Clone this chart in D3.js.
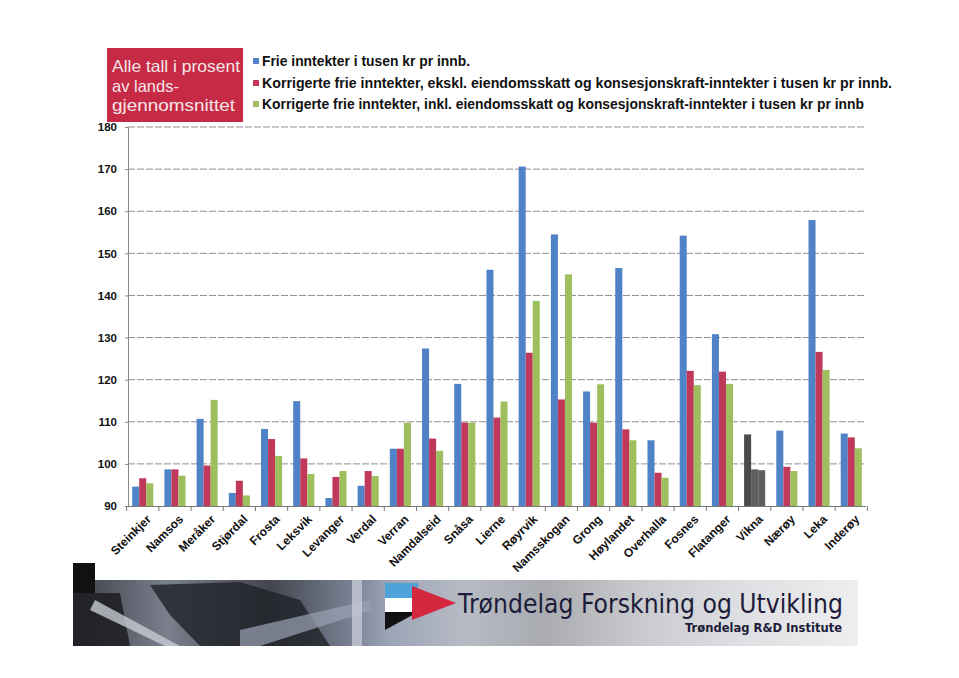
<!DOCTYPE html>
<html><head><meta charset="utf-8">
<script src="https://cdn.jsdelivr.net/npm/d3@7"></script>
<style>body{margin:0;background:#fff}svg{display:block}</style>
</head><body>
<svg id="c" width="959" height="678"></svg>
<script>
const categories = ["Steinkjer","Namsos","Meråker","Stjørdal","Frosta","Leksvik","Levanger","Verdal","Verran","Namdalseid","Snåsa","Lierne","Røyrvik","Namsskogan","Grong","Høylandet","Overhalla","Fosnes","Flatanger","Vikna","Nærøy","Leka","Inderøy"];
const frie = [94.6,98.7,110.7,93.1,108.3,114.9,91.9,94.8,103.6,127.4,119.0,146.1,170.6,154.5,117.2,146.5,105.6,154.2,130.8,107.0,107.9,157.9,107.2];
const eksklusiv = [96.6,98.7,99.6,96.0,105.9,101.3,96.9,98.3,103.6,106.0,109.8,111.0,126.4,115.3,109.8,108.2,97.9,122.1,121.9,98.7,99.3,126.6,106.3];
const inklusiv = [95.4,97.2,115.2,92.5,101.9,97.6,98.3,97.1,109.8,103.1,109.8,114.8,138.7,145.0,118.9,105.6,96.7,118.7,119.0,98.5,98.3,122.3,103.7];
const seriesNames = ["Frie inntekter i tusen kr pr innb.",
  "Korrigerte frie inntekter, ekskl. eiendomsskatt og konsesjonskraft-inntekter i tusen kr pr innb.",
  "Korrigerte frie inntekter, inkl. eiendomsskatt og konsesjonskraft-inntekter i tusen kr pr innb"];
const yTicks = [90,100,110,120,130,140,150,160,170,180];
const boxLines = ["Alle tall i prosent","av lands-","gjennomsnittet"];
const colors = ["#4f82c6","#c0385a","#9ebf5e"];
const greyCat = "Vikna";
const greyColors = ["#4b4b4b","#5f5f5f","#5f5f5f"];

const svg = d3.select("#c");
const F = "'Liberation Sans', Arial, sans-serif";
const FN = "'Liberation Sans Narrow','Arial Narrow','Liberation Sans',Arial,sans-serif";

const x = d3.scaleBand().domain(categories).range([128,866]).paddingInner(0.345).paddingOuter(0.13);
const keys = [0,1,2];
const xs = d3.scaleBand().domain(keys).range([0,x.bandwidth()]);
const y = d3.scaleLinear().domain([90,180]).range([506,127]);
const series = [frie, eksklusiv, inklusiv];

// gridlines
svg.append("g").selectAll("line").data(yTicks.filter(t=>t>90)).join("line")
  .attr("x1",128).attr("x2",866).attr("y1",d=>y(d)).attr("y2",d=>y(d))
  .attr("stroke","#8f8f8f").attr("stroke-width",1).attr("stroke-dasharray","7,2");

// y axis
const ya = svg.append("g").attr("transform","translate(128,0)").call(d3.axisLeft(y).tickValues(yTicks).tickSize(3).tickPadding(8));
ya.select(".domain").attr("stroke","#888");
ya.selectAll(".tick line").attr("stroke","#888");
ya.selectAll("text").attr("font-family",F).attr("font-weight","bold").attr("font-size","11.5px").attr("fill","#111");

// bars
const groups = svg.append("g").selectAll("g").data(categories).join("g")
  .attr("transform",d=>`translate(${x(d)},0)`);
groups.selectAll("rect").data((c,i)=>keys.map(k=>({k, c, v:series[k][i]}))).join("rect")
  .attr("x",d=>xs(d.k)).attr("width",xs.bandwidth())
  .attr("y",d=>y(d.v)).attr("height",d=>y(90)-y(d.v))
  .attr("fill",d=> d.c===greyCat ? greyColors[d.k] : colors[d.k]);

// x axis
const step = x.step();
const x0 = x(categories[0]) - step*x.paddingInner()/2;
svg.append("line").attr("x1",128).attr("x2",866).attr("y1",506.5).attr("y2",506.5).attr("stroke","#777").attr("stroke-width",1.2);
svg.append("g").selectAll("line").data(d3.range(categories.length+1)).join("line")
  .attr("x1",i=>x0+i*step).attr("x2",i=>x0+i*step).attr("y1",506).attr("y2",511)
  .attr("stroke","#777");
svg.append("g").selectAll("text").data(categories).join("text")
  .attr("transform",d=>`translate(${x(d)+x.bandwidth()/2+6},${517}) rotate(-45)`)
  .attr("text-anchor","end").attr("dy","0.35em")
  .attr("font-family",F).attr("font-weight","bold").attr("font-size","12px").attr("fill","#111")
  .text(d=>d);

// red box
svg.append("rect").attr("x",107).attr("y",48).attr("width",136).attr("height",74).attr("fill","#c72a45");
const boxW = [128,null,123];
svg.append("g").selectAll("text").data(boxLines).join("text")
  .attr("x",112).attr("y",(d,i)=>72+i*19.5)
  .attr("font-family",FN).attr("font-size","16.5px").attr("fill","#f3e6e8")
  .each(function(d,i){ if(boxW[i]) d3.select(this).attr("textLength",boxW[i]).attr("lengthAdjust","spacingAndGlyphs"); })
  .text(d=>d);

// legend
const legW = [208,630,602];
const lg = svg.append("g").selectAll("g").data(seriesNames).join("g")
  .attr("transform",(d,i)=>`translate(253,${[61,83,104][i]})`);
lg.append("rect").attr("x",0).attr("y",-3).attr("width",6).attr("height",6).attr("fill",(d,i)=>colors[i]);
lg.append("text").attr("x",9).attr("y",5)
  .attr("font-family",FN).attr("font-weight","bold").attr("font-size","15px").attr("fill","#111")
  .attr("textLength",(d,i)=>legW[i]).attr("lengthAdjust","spacingAndGlyphs")
  .text(d=>d);

// banner
const defs = svg.append("defs");
const g1 = defs.append("linearGradient").attr("id","bg").attr("x1","0").attr("x2","1").attr("y1","0").attr("y2","0");
[[0,"#3b3f48"],[0.12,"#7a7f8c"],[0.25,"#42454e"],[0.36,"#7c8496"],[0.4,"#9aa3b6"],[0.5,"#b7bbc4"],[0.6,"#a9abb0"],[0.72,"#c9cacd"],[0.85,"#dedfe2"],[1,"#eeeef0"]]
  .forEach(([o,c])=>g1.append("stop").attr("offset",o).attr("stop-color",c));
const b = svg.append("g");
b.append("rect").attr("x",73).attr("y",580).attr("width",785).attr("height",66).attr("fill","url(#bg)");
b.append("rect").attr("x",73).attr("y",563).attr("width",22).attr("height",30).attr("fill","#111");
b.append("path").attr("d","M73,593 L120,593 L130,646 L73,646Z").attr("fill","#1c1d22").attr("opacity",0.85);
b.append("path").attr("d","M150,585 L240,582 L300,600 L330,646 L200,646 L170,615Z").attr("fill","#202228").attr("opacity",0.8);
b.append("path").attr("d","M95,600 L180,646 L165,646 L90,610Z").attr("fill","#c8cbd2").attr("opacity",0.8);
b.append("path").attr("d","M240,630 L370,600 L372,610 L260,646 L240,646Z").attr("fill","#9aa2b4").attr("opacity",0.7);
b.append("rect").attr("x",352).attr("y",580).attr("width",10).attr("height",66).attr("fill","#cfd3db").attr("opacity",0.7);
// logo
b.append("path").attr("d","M385,583 L418,583 L418,598 L385,598Z").attr("fill","#4fa3d8");
b.append("path").attr("d","M385,598 L418,598 L418,612 L385,612Z").attr("fill","#ffffff");
b.append("path").attr("d","M385,612 L418,612 L385,630Z").attr("fill","#111");
b.append("path").attr("d","M385,583 L418,598 L385,598Z").attr("fill","#ffffff").attr("opacity",0.0);
b.append("path").attr("d","M412,586 L456,603 L412,620Z").attr("fill","#d3283d");
b.append("text").attr("x",458).attr("y",613).attr("font-family","'DejaVu Sans',sans-serif").attr("font-size","27px").attr("fill","#1c1c3a")
  .attr("textLength",385).attr("lengthAdjust","spacingAndGlyphs").text("Trøndelag Forskning og Utvikling");
b.append("text").attr("x",842).attr("y",632).attr("text-anchor","end").attr("font-family","'DejaVu Sans',sans-serif").attr("font-weight","bold").attr("font-size","13px").attr("fill","#1c1c3a")
  .attr("textLength",157).attr("lengthAdjust","spacingAndGlyphs").text("Trøndelag R&D Institute");
</script>
</body></html>
